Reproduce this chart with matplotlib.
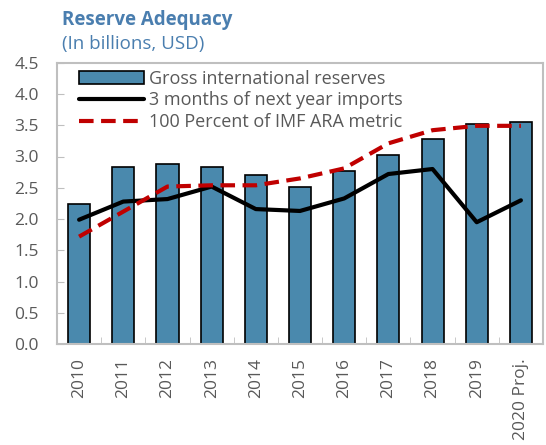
import matplotlib.pyplot as plt
import numpy as np

years = ['2010', '2011', '2012', '2013', '2014', '2015', '2016', '2017', '2018', '2019', '2020 Proj.']
reserves = [2.24, 2.83, 2.88, 2.83, 2.70, 2.51, 2.77, 3.02, 3.28, 3.52, 3.55]
imports_3m = [1.99, 2.28, 2.32, 2.52, 2.16, 2.13, 2.33, 2.72, 2.80, 1.95, 2.30]
ara_metric = [1.72, 2.12, 2.52, 2.54, 2.54, 2.65, 2.81, 3.21, 3.42, 3.49, 3.49]

plt.rcParams['font.family'] = ['Open Sans', 'DejaVu Sans']
gray = '#595959'
blue = '#4A7EAF'

fig = plt.figure(figsize=(5.46, 4.45), dpi=100)
ax = fig.add_axes([57 / 546, 1 - 344.3 / 445, (543 - 57) / 546, (344.3 - 62.6) / 445])

x = np.arange(len(years))
bars = ax.bar(x, reserves, width=0.5, color='#4A89AD', edgecolor='black', linewidth=1.2,
              label='Gross international reserves', zorder=2)
line1, = ax.plot(x, imports_3m, color='black', linewidth=3, solid_capstyle='round',
                 label='3 months of next year imports', zorder=3)
line2, = ax.plot(x, ara_metric, color='#C00000', linewidth=3, dashes=(3.5, 1.8),
                 label='100 Percent of IMF ARA metric', zorder=3)

ax.set_xlim(-0.5, len(years) - 0.5)
ax.set_ylim(0, 4.5)
ax.set_yticks(np.arange(0, 4.51, 0.5))
ax.set_yticklabels([f'{v:.1f}' for v in np.arange(0, 4.51, 0.5)])
ax.set_xticks(x)
ax.set_xticklabels(years, rotation=90)
ax.set_xticks(np.arange(0.5, len(years) - 0.5, 1), minor=True)
ax.tick_params(axis='x', which='major', length=0, pad=10, labelsize=12.5, labelcolor=gray)
ax.tick_params(axis='x', which='minor', direction='in', length=5, color='#BFBFBF')
ax.tick_params(axis='y', direction='in', length=5, color='#BFBFBF', labelsize=12.5,
               labelcolor=gray, pad=13)
for s in ax.spines.values():
    s.set_color('#BFBFBF')
    s.set_linewidth(1.5)

ax.legend([bars, line1, line2], [bars.get_label(), line1.get_label(), line2.get_label()],
          loc='upper left', frameon=False, fontsize=13, handlelength=3.6,
          handletextpad=0.3, labelspacing=0.2, borderaxespad=0.0,
          bbox_to_anchor=(0.03, 1.0), labelcolor=gray)

fig.text(62 / 546, 1 - 20 / 445, 'Reserve Adequacy', color=blue, fontsize=13.5,
         fontweight='bold', va='center')
fig.text(62 / 546, 1 - 44 / 445, '(In billions, USD)', color=blue, fontsize=13.5,
         va='center')

fig.savefig('out.png', dpi=100)
